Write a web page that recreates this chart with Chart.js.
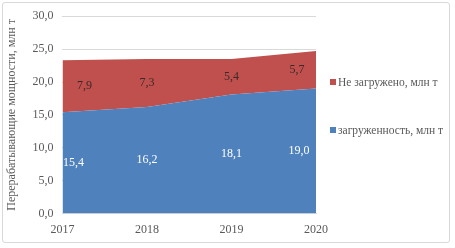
<!DOCTYPE html>
<html>
<head>
<meta charset="utf-8">
<script src="https://cdn.jsdelivr.net/npm/chart.js@4"></script>
<style>
    html, body { margin: 0; padding: 0; background: #fff; }
    #wrap { position: relative; width: 455px; height: 248px; }
    #frame { position: absolute; left: 2px; top: 2px; width: 446px; height: 239px; border: 1px solid #d9d9d9; border-radius: 3px; }
    #chart { position: absolute; left: 0; top: 0; }
    #legend { position: absolute; left: 330px; top: 75px; font-family: "Liberation Serif", "Times New Roman", serif; font-size: 11.5px; color: #595959; }
    .item { display: flex; align-items: center; height: 14px; margin-bottom: 34px; white-space: nowrap; }
    .box { width: 6px; height: 6px; margin-right: 2px; }
</style>
</head>
<body>
<div id="wrap">
    <div id="frame"></div>
    <canvas id="chart" width="455" height="248"></canvas>
    <div id="legend"></div>
</div>
<script>
const years = ["2017", "2018", "2019", "2020"];
const loaded = [15.4, 16.2, 18.1, 19.0];
const notLoaded = [7.9, 7.3, 5.4, 5.7];
const yTicks = [0, 5, 10, 15, 20, 25, 30];

const fmt = v => v.toFixed(1).replace(".", ",");
const serif = "'Liberation Serif', 'Times New Roman', serif";

// labels in the middle of each band, pulled inward at the ends
const bandLabels = {
    id: "bandLabels",
    afterDatasetsDraw(chart) {
        const ctx = chart.ctx;
        const y = chart.scales.y;
        ctx.save();
        ctx.font = "12px " + serif;
        ctx.textAlign = "center";
        ctx.textBaseline = "middle";
        chart.data.datasets.forEach((ds, di) => {
            const meta = chart.getDatasetMeta(di);
            meta.data.forEach((pt, i) => {
                let below = 0;
                for (let k = 0; k < di; k++) below += chart.data.datasets[k].data[i];
                const v = ds.data[i];
                const py = y.getPixelForValue(below + v / 2);
                let px = pt.x;
                if (i === 0) px += ds.labelShift[0];
                if (i === ds.data.length - 1) px -= ds.labelShift[1];
                ctx.fillStyle = ds.labelColor;
                ctx.fillText(fmt(v), px, py);
            });
        });
        ctx.restore();
    }
};

const chart = new Chart(document.getElementById("chart"), {
    type: "line",
    data: {
        labels: years,
        datasets: [
            { label: "загруженность, млн т", data: loaded, backgroundColor: "#4f81bd", borderColor: "#4f81bd",
              borderWidth: 0, fill: "origin", pointRadius: 0, labelColor: "#ffffff", labelShift: [11, 17] },
            { label: "Не загружено, млн т", data: notLoaded, backgroundColor: "#c0504d", borderColor: "#c0504d",
              borderWidth: 0, fill: "-1", pointRadius: 0, labelColor: "#3a2a2a", labelShift: [22, 19] }
        ]
    },
    options: {
        responsive: false,
        animation: false,
        layout: { padding: { left: 3, top: 9, right: 139, bottom: 2 } },
        plugins: { legend: { display: false }, tooltip: { enabled: false } },
        scales: {
            x: {
                offset: false,
                grid: { display: false, drawTicks: false },
                border: { color: "#d9d9d9" },
                ticks: { color: "#595959", font: { family: serif, size: 12 }, padding: 9, maxRotation: 0 }
            },
            y: {
                stacked: true,
                min: 0, max: 30,
                afterBuildTicks: axis => { axis.ticks = yTicks.map(v => ({ value: v })); },
                grid: { color: "#d9d9d9", drawTicks: false },
                border: { display: false },
                ticks: { color: "#595959", font: { family: serif, size: 12 }, padding: 9, callback: v => fmt(v) },
                title: { display: true, text: "Перерабатывающие мощности, млн т", color: "#595959",
                         font: { family: serif, size: 12 }, padding: { top: 2, bottom: 4 } }
            }
        }
    },
    plugins: [bandLabels]
});

// legend, top item is the upper band
const legend = document.getElementById("legend");
chart.data.datasets.slice().reverse().forEach(ds => {
    const row = document.createElement("div");
    row.className = "item";
    row.innerHTML = `<span class="box" style="background:${ds.backgroundColor}"></span><span>${ds.label}</span>`;
    legend.appendChild(row);
});
</script>
</body>
</html>
